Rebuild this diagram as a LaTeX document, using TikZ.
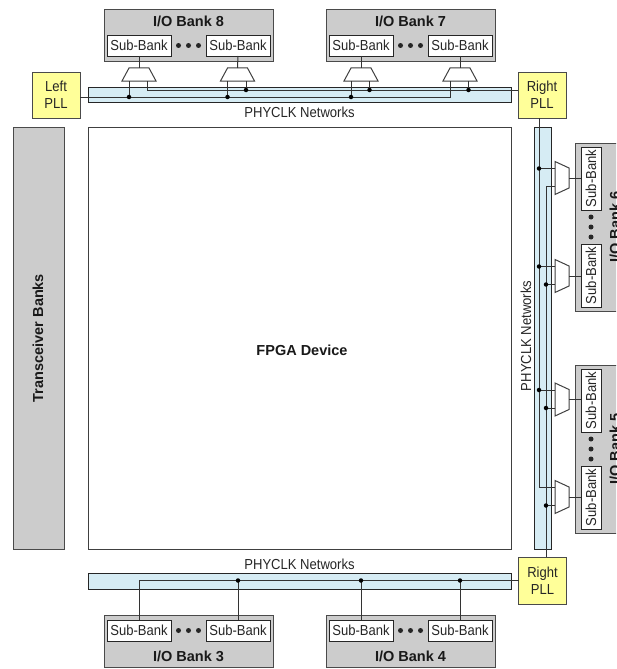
\documentclass[tikz,border=0pt]{standalone}
\usepackage{fontspec}
\setmainfont[FakeStretch=0.9,BoldFeatures={FakeStretch=1}]{Liberation Sans}
\definecolor{bandc}{HTML}{D6ECF4}
\definecolor{grayc}{HTML}{CCCCCC}
\definecolor{yelc}{HTML}{FFFF99}
\definecolor{edge}{HTML}{4A4A4A}
\tikzset{
  base/.style={inner sep=0pt,outer sep=0pt,font=\fontsize{14.5}{16}\selectfont},
  bank/.style={base,draw=edge,fill=grayc,line width=.85pt,rectangle},
  sub/.style={base,draw=black!85,fill=white,line width=.9pt,rectangle,text=black!85},
  band/.style={base,draw=black!85,fill=bandc,line width=.9pt,rectangle},
  pll/.style={base,draw=edge,fill=yelc,line width=.85pt,rectangle,align=center,text=black!85},
  lbl/.style={base,text=black!85},
  title/.style={base,font=\fontsize{14.5}{16}\selectfont\bfseries,text=black!90},
  wire/.style={draw=black!80,line width=1pt},
  muxs/.style={draw=black!75,line width=1pt,fill=none,line join=miter},
  dotj/.style={circle,fill=black,inner sep=0pt,minimum size=4.5pt},
  ell/.style={circle,fill=black!85,inner sep=0pt,minimum size=5pt}
}
\begin{document}
\begin{tikzpicture}[x=1pt,y=-1pt]
\useasboundingbox (0,0) rectangle (616,669);
\clip (0,0) rectangle (616,669);
\fill[white] (0,0) rectangle (616,669);
% large blocks
\node[bank,minimum width=51pt,minimum height=422pt] (tx) at (38.5,338) {};
\node[title,rotate=90] (txt) at (38,338) {Transceiver Banks};
\node[base,draw=black!75,fill=white,line width=.9pt,minimum width=423pt,minimum height=422pt] (fpga) at (299.5,338) {};
\node[title] (fpgat) at (302,350) {FPGA Device};
% bands
\node[band,minimum width=423pt,minimum height=15pt] (bandtop) at (299.5,94.5) {};
\node[band,minimum width=423pt,minimum height=16pt] (bandbot) at (299.5,581) {};
\node[band,minimum width=17pt,minimum height=422pt] (bandr) at (542.5,338) {};
\node[lbl] (nt) at (299.5,112) {PHYCLK Networks};
\node[lbl] (nb) at (299.5,564) {PHYCLK Networks};
\node[lbl,rotate=90] (nr) at (526,336) {PHYCLK Networks};
% PLLs
\node[pll,minimum width=48pt,minimum height=46pt] (lpll) at (56,95) {Left\\[1pt]PLL};
\node[pll,minimum width=48pt,minimum height=46pt] (rpll) at (542,95) {Right\\[1pt]PLL};
\node[pll,minimum width=48pt,minimum height=47pt] (rpllb) at (542.5,580.5) {Right\\[1pt]PLL};
% top banks
\foreach \n/\cx in {8/188.5,7/410.5}{
  \node[bank,minimum width=169pt,minimum height=52pt] (bank\n) at (\cx,35) {};
  \node[title] (bank\n t) at (\cx,21) {I/O Bank \n};
  \node[sub,minimum width=64pt,minimum height=21pt] (s\n a) at (\cx-49.5,45.5) {Sub-Bank};
  \node[sub,minimum width=64pt,minimum height=21pt] (s\n b) at (\cx+49.5,45.5) {Sub-Bank};
  \node[ell] (d\n a) at (\cx-10,45.5) {};
  \node[ell] (d\n b) at (\cx,45.5) {};
  \node[ell] (d\n c) at (\cx+10,45.5) {};
}
% bottom banks
\foreach \n/\cx in {3/188.5,4/410.5}{
  \node[bank,minimum width=169pt,minimum height=52pt] (bank\n) at (\cx,641) {};
  \node[title] (bank\n t) at (\cx,656) {I/O Bank \n};
  \node[sub,minimum width=64pt,minimum height=21pt] (s\n a) at (\cx-49.5,630.5) {Sub-Bank};
  \node[sub,minimum width=64pt,minimum height=21pt] (s\n b) at (\cx+49.5,630.5) {Sub-Bank};
  \node[ell] (d\n a) at (\cx-10,630.5) {};
  \node[ell] (d\n b) at (\cx,630.5) {};
  \node[ell] (d\n c) at (\cx+10,630.5) {};
}
% right banks
\foreach \n/\cy in {6/227,5/449}{
  \node[bank,minimum width=52pt,minimum height=168pt] (bank\n) at (601,\cy) {};
  \node[title,rotate=90] (bank\n t) at (615,\cy) {I/O Bank \n};
  \node[sub,rotate=90,minimum width=63pt,minimum height=20pt] (s\n a) at (591,\cy-48.5) {Sub-Bank};
  \node[sub,rotate=90,minimum width=63pt,minimum height=20pt] (s\n b) at (591,\cy+48.5) {Sub-Bank};
  \node[ell] (d\n a) at (591,\cy-10) {};
  \node[ell] (d\n b) at (591,\cy) {};
  \node[ell] (d\n c) at (591,\cy+10) {};
}
% top muxes
\foreach \m/\cx/\s in {ma/139/s8a,mb/237.5/s8b,mc/361/s7a,md/460/s7b}{
  \draw[muxs] (\cx-10,68) -- (\cx+10,68) -- (\cx+17,81) -- (\cx-17,81) -- cycle;
  \coordinate (\m top) at (\cx,68);
  \coordinate (\m i) at (\cx-10,81);
  \coordinate (\m j) at (\cx+8.5,81);
  \draw[wire] (\s.south) -- (\m top);
}
% top lines
\coordinate (lo) at (lpll.east |- 0,97);
\coordinate (hi) at (rpll.west |- 0,90);
\draw[wire] (lo) -- (mdi |- 0,97) -- (mdi);
\draw[wire] (hi) -- (maj |- 0,90) -- (maj);
\draw[wire] (mai) -- (mai |- 0,97) node[dotj] (ja) {};
\draw[wire] (mbi) -- (mbi |- 0,97) node[dotj] (jb) {};
\draw[wire] (mbj) -- (mbj |- 0,90) node[dotj] (jc) {};
\draw[wire] (mci) -- (mci |- 0,97) node[dotj] (jd) {};
\draw[wire] (mcj) -- (mcj |- 0,90) node[dotj] (je) {};
\draw[wire] (mdj) -- (mdj |- 0,90) node[dotj] (jf) {};
% right muxes
\foreach \m/\cy/\s in {ra/178/s6a,rb/276/s6b,rc/399.5/s5a,rd/497/s5b}{
  \draw[muxs] (555,\cy-16.5) -- (569,\cy-10) -- (569,\cy+10) -- (555,\cy+16.5) -- cycle;
  \coordinate (\m out) at (569,\cy);
  \coordinate (\m i) at (555,\cy-9.5);
  \coordinate (\m j) at (555,\cy+8.5);
  \draw[wire] (\m out) -- (\s.north |- \m out);
}
\coordinate (ra) at (539,118);
\coordinate (rb) at (546,557);
\draw[wire] (ra) -- (539,0 |- rdi) -- (rdi);
\draw[wire] (rb) -- (546,0 |- raj) -- (raj);
\draw[wire] (rai) -- (539,0 |- rai) node[dotj] (ka) {};
\draw[wire] (rbi) -- (539,0 |- rbi) node[dotj] (kb) {};
\draw[wire] (rbj) -- (546,0 |- rbj) node[dotj] (kc) {};
\draw[wire] (rci) -- (539,0 |- rci) node[dotj] (kd) {};
\draw[wire] (rcj) -- (546,0 |- rcj) node[dotj] (ke) {};
\draw[wire] (rdj) -- (546,0 |- rdj) node[dotj] (kf) {};
% bottom lines
\coordinate (bl) at (s3a.north |- rpllb.west);
\draw[wire] (rpllb.west) -- (bl) -- (s3a.north);
\draw[wire] (s3b.north) -- (s3b.north |- rpllb.west) node[dotj] (la) {};
\draw[wire] (s4a.north) -- (s4a.north |- rpllb.west) node[dotj] (lb) {};
\draw[wire] (s4b.north) -- (s4b.north |- rpllb.west) node[dotj] (lc) {};
\end{tikzpicture}
\end{document}
